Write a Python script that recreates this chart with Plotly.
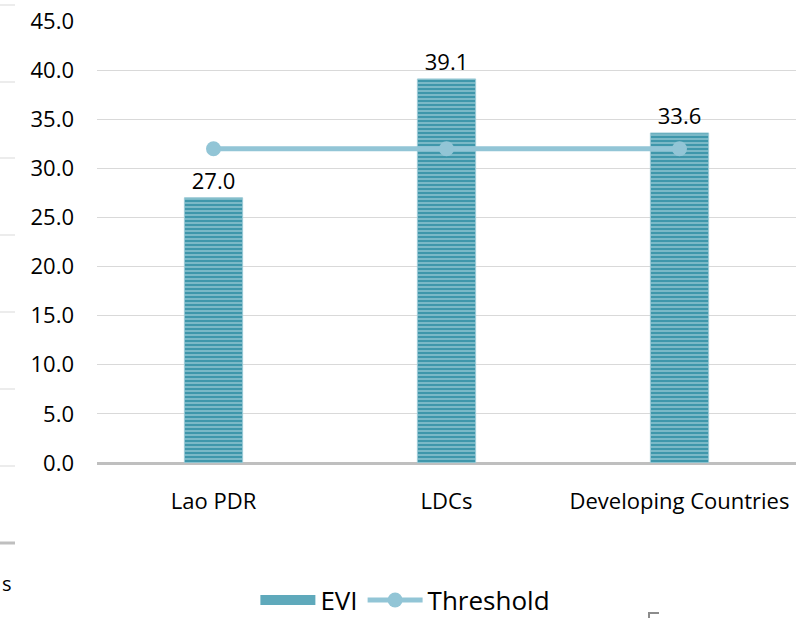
import plotly.graph_objects as go

categories = ["Lao PDR", "LDCs", "Developing Countries"]
evi_values = [27.0, 39.1, 33.6]
threshold_values = [32.0, 32.0, 32.0]
y_ticks = [0, 5, 10, 15, 20, 25, 30, 35, 40, 45]

W, H = 798, 618
ML, MR, MT, MB = 97, 2, 21, 155
FONT = "Open Sans"
TEAL = "#3F97AB"

fig = go.Figure()
fig.add_trace(go.Bar(
    x=categories, y=evi_values, name="EVI", showlegend=False,
    marker=dict(
        color=TEAL,
        line=dict(color="#9CCAD6", width=1),
        pattern=dict(shape="-", bgcolor=TEAL, fgcolor="#C4E2EA",
                     size=4, solidity=0.45),
    ),
    text=[f"{v:.1f}" for v in evi_values],
    textposition="outside",
    textfont=dict(family=FONT, size=22, color="#000000"),
    cliponaxis=False,
))
# legend entry for the bars (wide swatch like the reference)
fig.add_trace(go.Scatter(
    x=[None], y=[None], name="EVI", mode="lines",
    line=dict(color="#5FA9BB", width=14),
    hoverinfo="skip",
))
fig.add_trace(go.Scatter(
    x=categories, y=threshold_values, name="Threshold",
    mode="lines+markers",
    line=dict(color="#92C5D6", width=5),
    marker=dict(color="#92C5D6", size=15),
))

# helper converting pixel positions to paper coordinates (decorative fragments only)
def px(x):
    return (x - ML) / (W - ML - MR)

def py(y):
    return (H - MB - y) / (H - MT - MB)

shapes = []
for yy in [5, 82, 158, 235, 312, 389, 466]:
    shapes.append(dict(type="line", xref="paper", yref="paper",
                       x0=px(0), x1=px(15), y0=py(yy), y1=py(yy),
                       line=dict(color="#D9D9D9", width=1)))
shapes.append(dict(type="line", xref="paper", yref="paper",
                   x0=px(0), x1=px(15), y0=py(543), y1=py(543),
                   line=dict(color="#BFBFBF", width=3)))
shapes.append(dict(type="line", xref="paper", yref="paper",
                   x0=px(648), x1=px(659), y0=py(613), y1=py(613),
                   line=dict(color="#8C8C8C", width=2)))
shapes.append(dict(type="line", xref="paper", yref="paper",
                   x0=px(649), x1=px(649), y0=py(613), y1=py(619),
                   line=dict(color="#8C8C8C", width=2)))

annotations = [dict(text="s", xref="paper", yref="paper", x=px(0), y=py(583),
                    xanchor="left", yanchor="middle", showarrow=False,
                    font=dict(family=FONT, size=20, color="#000000"))]

fig.update_layout(
    width=W, height=H,
    margin=dict(l=ML, r=MR, t=MT, b=MB, autoexpand=False),
    paper_bgcolor="white", plot_bgcolor="white",
    bargap=0.75,
    font=dict(family=FONT, color="#000000"),
    showlegend=True,
    legend=dict(orientation="h", xref="container", yref="container",
                x=0.508, y=0.029, xanchor="center", yanchor="middle",
                font=dict(family=FONT, size=26, color="#000000"),
                itemwidth=55, tracegroupgap=0),
    shapes=shapes,
    annotations=annotations,
)
fig.update_xaxes(
    showgrid=False, showline=False, zeroline=False,
    tickfont=dict(family=FONT, size=22, color="#000000"),
    ticklabelstandoff=23,
    range=[-0.5, 2.5],
)
fig.update_yaxes(
    range=[0, 45], tickvals=y_ticks, tickformat=".1f",
    showgrid=True, gridcolor="#D9D9D9", gridwidth=1,
    zeroline=True, zerolinecolor="#BFBFBF", zerolinewidth=3,
    showline=False,
    tickfont=dict(family=FONT, size=22, color="#000000"),
    ticklabelstandoff=22,
)

fig.write_html(
    "out.html",
    config={"displayModeBar": False},
    post_script="document.body.style.margin='0';document.body.style.overflow='hidden';",
)
